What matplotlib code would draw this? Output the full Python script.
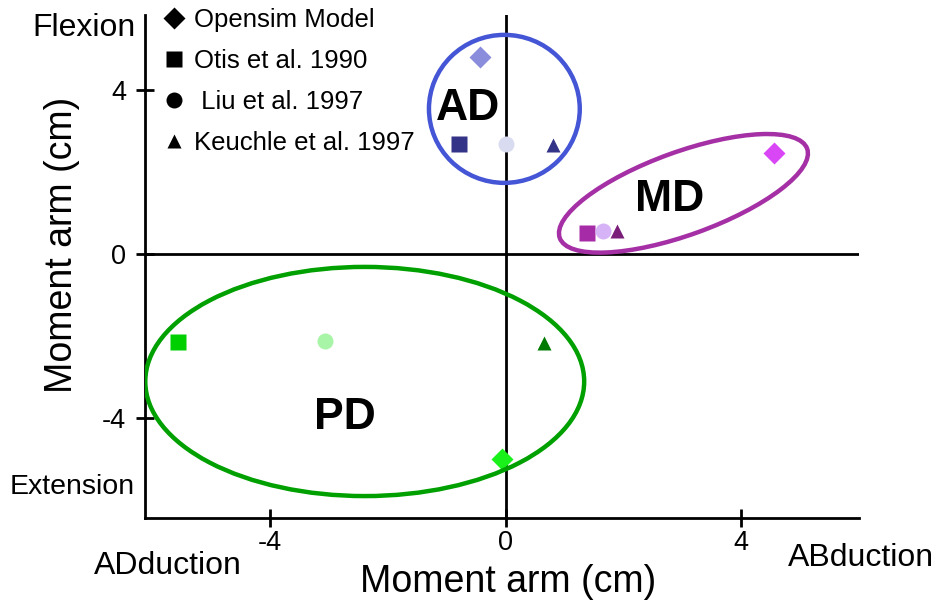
import matplotlib
matplotlib.use('Agg')
import matplotlib.pyplot as plt
from matplotlib.patches import Ellipse
from matplotlib.lines import Line2D
from matplotlib.transforms import ScaledTranslation

plt.rcParams['font.family'] = ['Liberation Sans', 'DejaVu Sans']

# data: order is Opensim, Otis, Liu, Keuchle
sources = ['Opensim Model', 'Otis et al. 1990', ' Liu et al. 1997', 'Keuchle et al. 1997']
markers = ['D', 's', 'o', '^']

ad_x = [-0.44, -0.79, 0.0, 0.80]
ad_y = [4.80, 2.68, 2.68, 2.66]
ad_colors = ['#8a8ddb', '#333388', '#d9dbf0', '#333388']

md_x = [4.56, 1.38, 1.65, 1.89]
md_y = [2.46, 0.52, 0.56, 0.56]
md_colors = ['#d946f5', '#a62ba6', '#d6b3f7', '#7b1e7a']

pd_x = [-0.06, -5.56, -3.06, 0.66]
pd_y = [-5.01, -2.15, -2.12, -2.17]
pd_colors = ['#1af01a', '#00d000', '#a8f5a8', '#007a00']

fig = plt.figure(figsize=(9.4, 6.05), dpi=100)
ax = fig.add_axes([145/940, 87/605, 714/940, 503/605])
ax.set_xlim(-6.12, 6.0)
ax.set_ylim(-6.44, 5.83)

for s in ['top', 'right']:
    ax.spines[s].set_visible(False)
for s in ['left', 'bottom']:
    ax.spines[s].set_linewidth(2.0)

ax.axhline(0, color='black', lw=2.0, zorder=1)
ax.axvline(0, color='black', lw=2.0, zorder=1)

ms = {'D': 11, 's': 11.5, 'o': 11.5, '^': 10}
for xs, ys, cs in [(ad_x, ad_y, ad_colors), (md_x, md_y, md_colors), (pd_x, pd_y, pd_colors)]:
    for x, y, c, m in zip(xs, ys, cs, markers):
        ax.plot(x, y, marker=m, color=c, ms=ms[m], ls='none', zorder=3, mec='none')

# group ellipses
ax.add_patch(Ellipse((-0.02, 3.54), 2.56, 3.61, fill=False, ec='#4455d6', lw=3.2, zorder=4))
ax.add_patch(Ellipse((-2.39, -3.11), 7.45, 5.59, fill=False, ec='#00a000', lw=3.2, zorder=4))
md_tr = fig.dpi_scale_trans + ScaledTranslation(3.02, 1.48, ax.transData)
ax.add_patch(Ellipse((0, 0), 2.63, 0.83, angle=19.85, fill=False, ec='#a52fa5', lw=3.2,
                     zorder=4, transform=md_tr))

ax.text(-0.64, 3.56, 'AD', fontsize=32, fontweight='bold', ha='center', va='center', zorder=5)
ax.text(2.79, 1.32, 'MD', fontsize=32, fontweight='bold', ha='center', va='center', zorder=5)
ax.text(-2.72, -3.98, 'PD', fontsize=32, fontweight='bold', ha='center', va='center', zorder=5)

ax.set_xticks([-4, 0, 4])
ax.set_xticklabels(['-4', '0', '4'])
ax.set_yticks([-4, 0, 4])
ax.set_yticklabels(['-4', '0', '4'])
ax.tick_params(axis='both', direction='inout', length=13, width=2.0, labelsize=19.5)
ax.tick_params(axis='x', pad=2)
ax.tick_params(axis='y', pad=7)

ax.set_xlabel('Moment arm (cm)', fontsize=27)
ax.xaxis.set_label_coords(0.508, -0.092)
ax.set_ylabel('Moment arm (cm)', fontsize=27)
ax.yaxis.set_label_coords(-0.091, 0.543)

fig.text(136/940, 1 - 28/605, 'Flexion', fontsize=23, ha='right', va='center')
fig.text(135/940, 1 - 487/605, 'Extension', fontsize=20.5, ha='right', va='center')
fig.text(168/940, 1 - 566/605, 'ADduction', fontsize=23, ha='center', va='center')
fig.text(861/940, 1 - 558/605, 'ABduction', fontsize=23, ha='center', va='center')

handles = [Line2D([], [], marker=m, color='black', ls='none', ms=ms[m], mec='none') for m in markers]
fig.legend(handles, sources, loc='upper left', bbox_to_anchor=(161/940, 1 - 8/605),
           frameon=False, fontsize=18.5, borderpad=0, handlelength=1.0,
           handletextpad=0.3, labelspacing=0.66, borderaxespad=0)

fig.savefig('out.png', dpi=100)
